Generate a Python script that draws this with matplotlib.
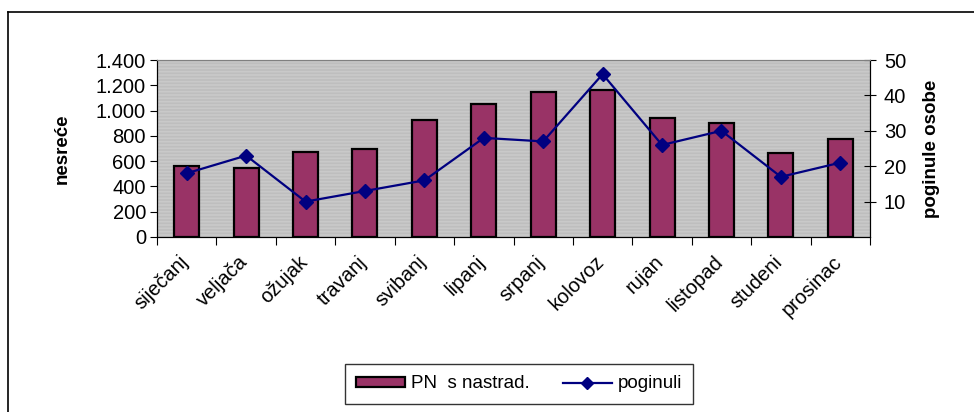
import matplotlib
matplotlib.use("Agg")
import matplotlib.pyplot as plt
from matplotlib.lines import Line2D
from matplotlib.patches import Patch
from matplotlib.transforms import ScaledTranslation
import numpy as np

plt.rcParams["font.family"] = ["Liberation Sans", "DejaVu Sans"]
plt.rcParams["hatch.linewidth"] = 1.2

# data
months = ["siječanj", "veljača", "ožujak", "travanj", "svibanj", "lipanj",
          "srpanj", "kolovoz", "rujan", "listopad", "studeni", "prosinac"]
nesrece = [560, 545, 672, 694, 928, 1050, 1150, 1160, 939, 899, 662, 773]
poginuli = [18, 23, 10, 13, 16, 28, 27, 46, 26, 30, 17, 21]

left_ticks = [0, 200, 400, 600, 800, 1000, 1200, 1400]
left_labels = ["0", "200", "400", "600", "800", "1.000", "1.200", "1.400"]
right_ticks = [10, 20, 30, 40, 50]

bar_color = "#993366"
line_color = "#000080"

fig = plt.figure(figsize=(9.74, 4.12), dpi=100)
W, H = 974, 412

# outer chart frame (left and top edges visible)
fig.add_artist(Line2D([7.5 / W, 7.5 / W], [0, 1 - 11.5 / H],
                      color="black", lw=1.2, transform=fig.transFigure))
fig.add_artist(Line2D([7.5 / W, 1], [1 - 11.5 / H, 1 - 11.5 / H],
                      color="black", lw=1.2, transform=fig.transFigure))

x0, x1, y0, y1 = 157, 870, 237, 60
ax = fig.add_axes([x0 / W, 1 - y0 / H, (x1 - x0) / W, (y0 - y1) / H])
ax.set_facecolor("#bebebe")
ax.patch.set_hatch("-----")
ax.patch.set_edgecolor("#c9c9c9")
ax.patch.set_linewidth(0)

x = np.arange(len(months))
ax.bar(x, nesrece, width=0.42, color=bar_color, edgecolor="black",
       linewidth=1.6, zorder=2)
ax.set_xlim(-0.5, len(months) - 0.5)
ax.set_ylim(0, 1400)
ax.set_yticks(left_ticks)
ax.set_yticklabels(left_labels)
ax.tick_params(axis="y", direction="out", length=5, labelsize=14.5, pad=3)

ax.set_xticks(np.arange(-0.5, len(months)), minor=False)
ax.set_xticklabels([])
ax.set_xticks(x, minor=True)
ax.set_xticklabels(months, minor=True, rotation=45, ha="right", va="top",
                   rotation_mode="anchor", fontsize=14.5)
ax.tick_params(axis="x", which="major", direction="out", length=6)
ax.tick_params(axis="x", which="minor", length=0, pad=11)
# labels sit a little left of the category centre, as in the original
shift = ScaledTranslation(-8 / 100, 0, fig.dpi_scale_trans)
for lbl in ax.get_xticklabels(minor=True):
    lbl.set_transform(lbl.get_transform() + shift)

ax.spines["top"].set_color("#808080")
ax.set_ylabel("nesreće", fontsize=13.5, fontweight="bold", labelpad=18)

ax2 = ax.twinx()
ax2.plot(x, poginuli, color=line_color, lw=1.6, marker="D", markersize=7,
         zorder=3)
ax2.set_ylim(0, 50)
ax2.set_yticks(right_ticks)
ax2.tick_params(axis="y", direction="inout", length=8, labelsize=14.5, pad=6)
ax2.set_ylabel("poginule osobe", fontsize=13.5, fontweight="bold", labelpad=12)
ax2.spines["top"].set_color("#808080")

handles = [Patch(facecolor=bar_color, edgecolor="black", linewidth=1.6),
           Line2D([], [], color=line_color, lw=1.6, marker="D", markersize=6)]
leg = fig.legend(handles, ["PN  s nastrad.", "poginuli"], loc="center",
                 bbox_to_anchor=(519 / W, 1 - 384 / H), ncol=2, fontsize=13.5,
                 frameon=True, fancybox=False, edgecolor="black",
                 handlelength=2.6, handleheight=0.45, columnspacing=1.8,
                 handletextpad=0.3, borderpad=0.6)
leg.get_frame().set_linewidth(1.0)

fig.savefig("out.png", dpi=100)
